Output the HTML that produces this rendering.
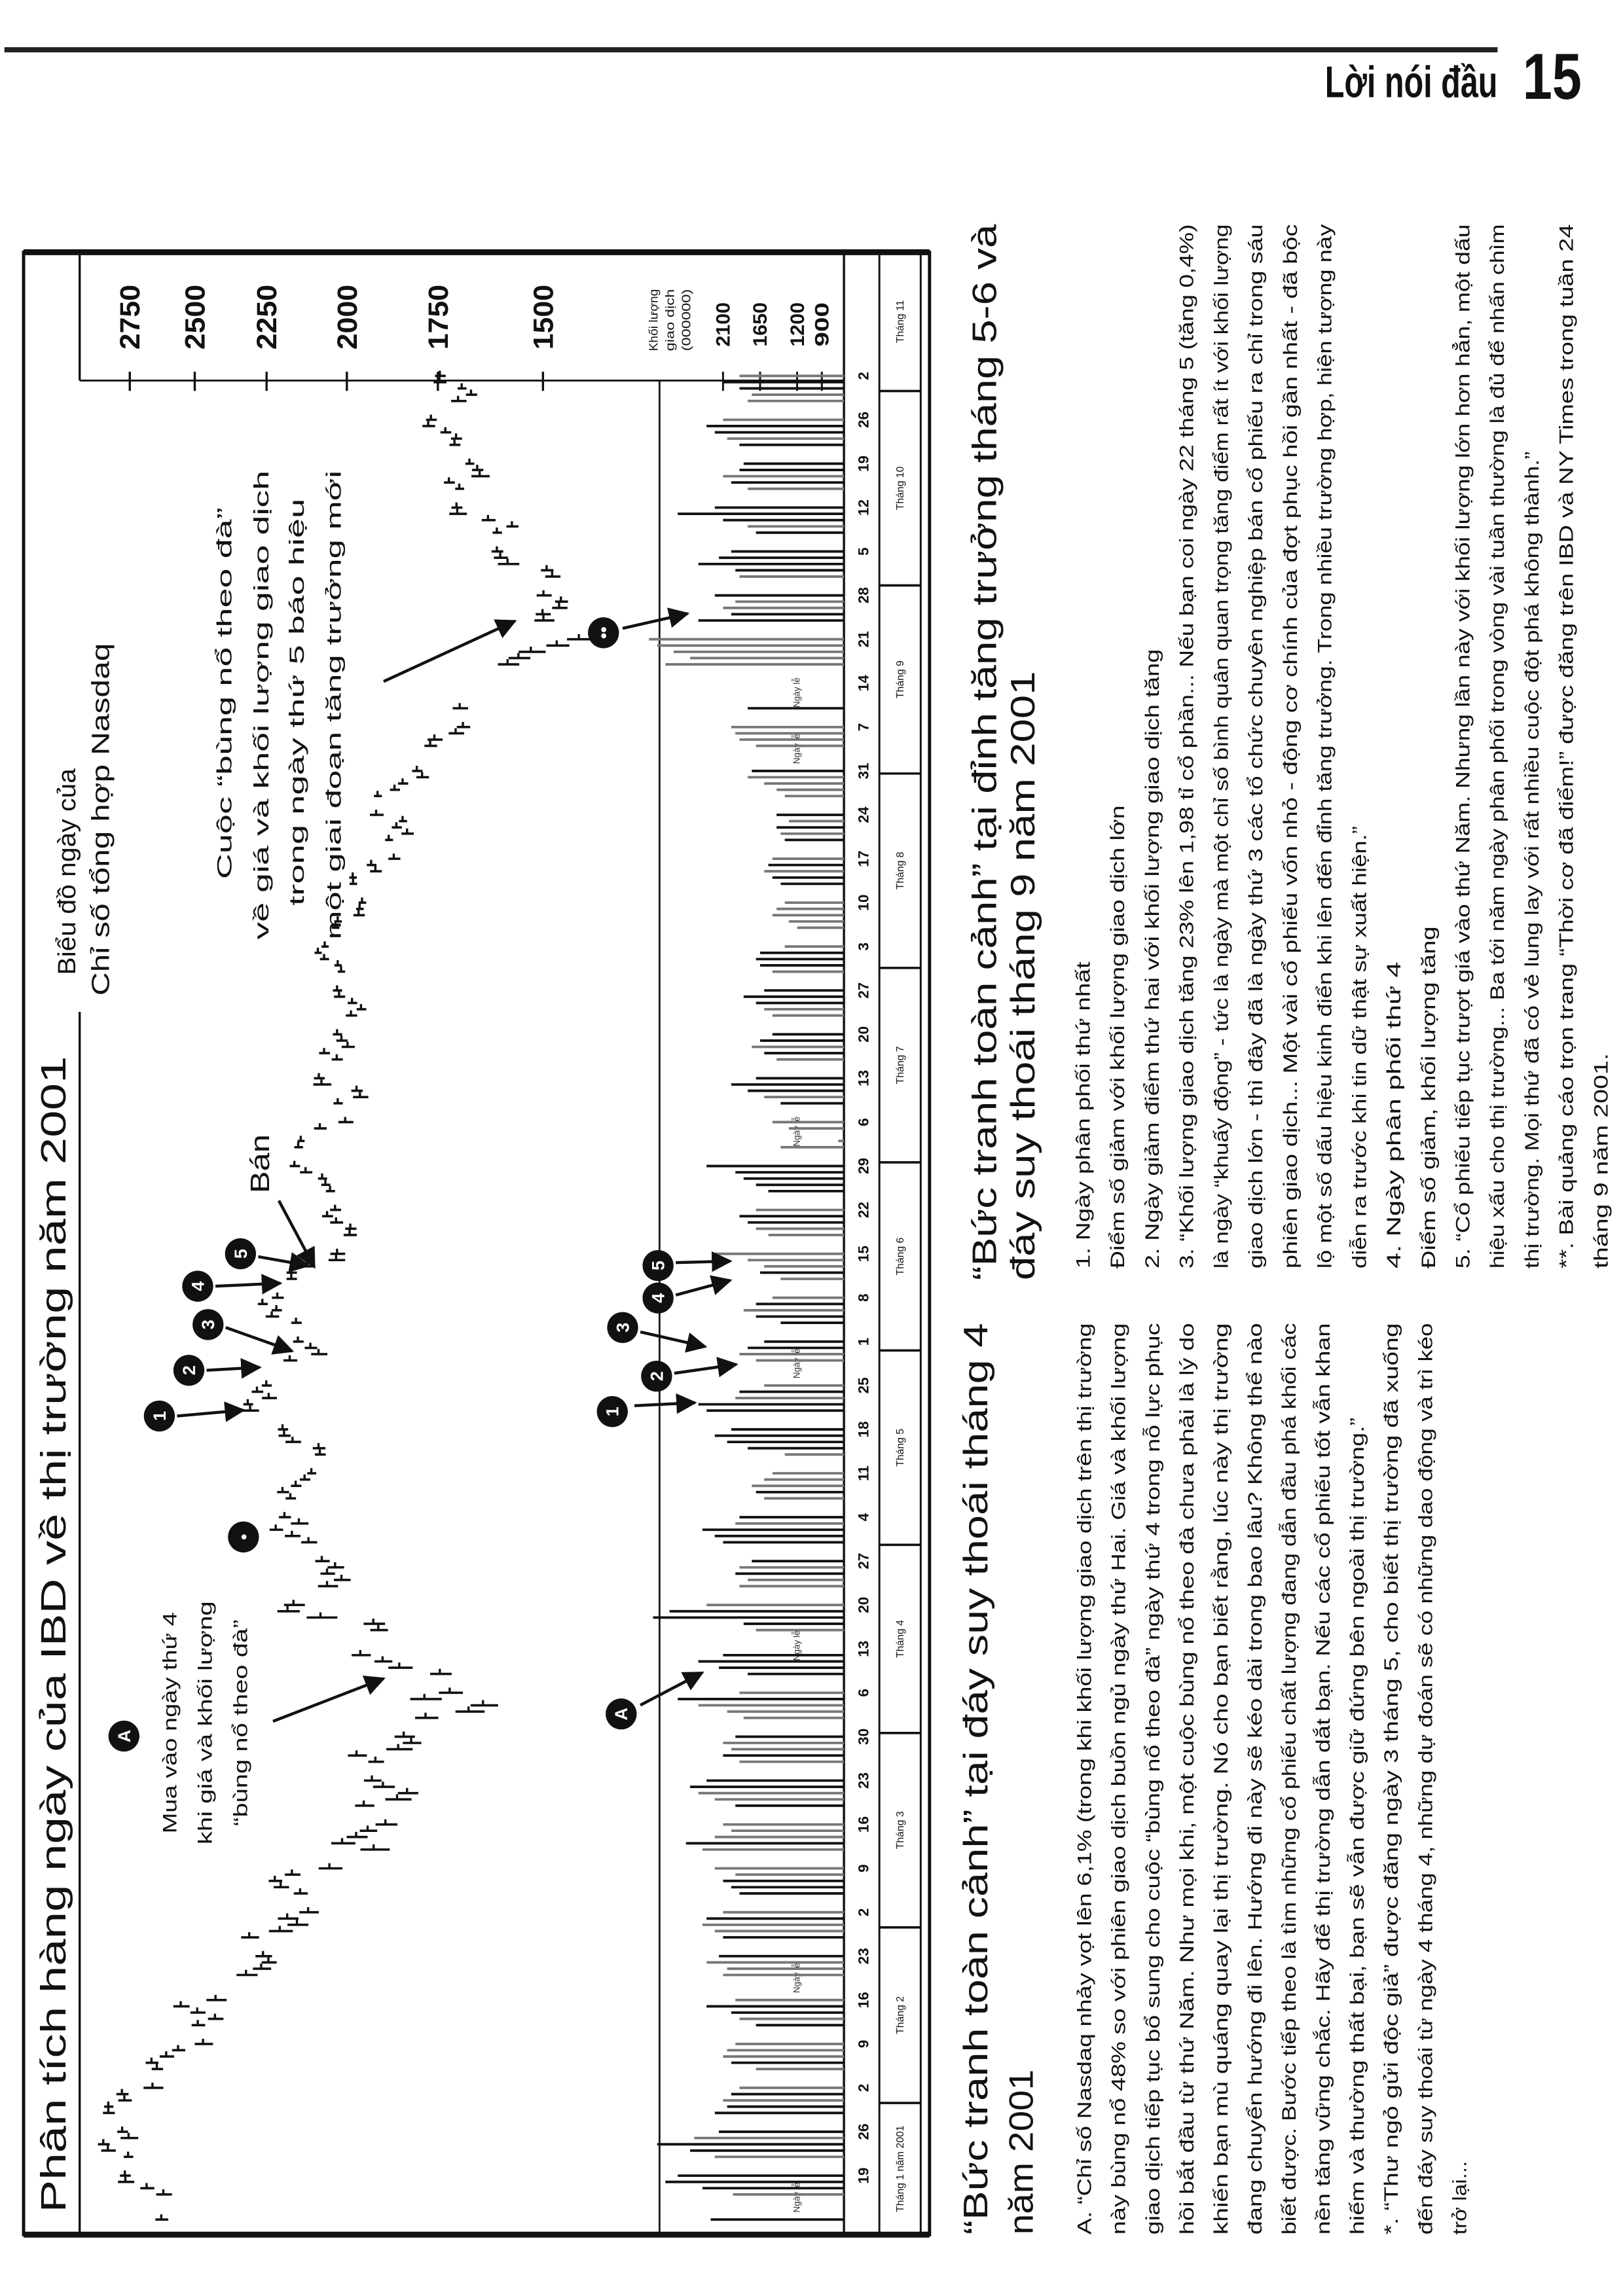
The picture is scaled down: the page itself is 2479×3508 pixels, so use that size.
<!DOCTYPE html>
<html><head><meta charset="utf-8"><title>Lời nói đầu 15</title>
<style>
html,body{margin:0;padding:0;background:#fff;}
svg{display:block;}
text{font-family:"Liberation Sans","DejaVu Sans",sans-serif;fill:#111;}
</style></head>
<body>
<svg id="page" xmlns="http://www.w3.org/2000/svg" width="2479" height="3508" viewBox="0 0 1100 1556.6" preserveAspectRatio="none">
<defs>
<marker id="ah" viewBox="0 0 10 10" refX="9" refY="5" markerWidth="7" markerHeight="7" orient="auto"><path d="M0,0 L10,5 L0,10 z" fill="#111"/></marker>
</defs>
<rect x="3" y="32" width="1012" height="3.5" fill="#222"/>
<text x="898" y="66" font-size="30" font-weight="bold" textLength="117" lengthAdjust="spacingAndGlyphs">Lời nói đầu</text>
<text x="1032" y="67" font-size="44" font-weight="bold" textLength="40" lengthAdjust="spacingAndGlyphs">15</text>

<g fill="none" stroke="#111">
<rect x="16" y="171" width="614" height="1344" stroke-width="2.2"/>
<line x1="16" y1="171" x2="630" y2="171" stroke-width="4"/>
<line x1="16" y1="1515" x2="630" y2="1515" stroke-width="4"/>
<line x1="54" y1="686" x2="54" y2="1515" stroke-width="1.5"/>
<line x1="54" y1="171" x2="54" y2="258" stroke-width="1.5"/>
<line x1="572" y1="171" x2="572" y2="1515" stroke-width="1.5"/>
<line x1="596" y1="171" x2="596" y2="1515" stroke-width="1.3"/>
<line x1="624" y1="171" x2="624" y2="1515" stroke-width="1.3"/>
<line x1="447" y1="258" x2="447" y2="1515" stroke-width="1.2"/>
<line x1="54" y1="258" x2="572" y2="258" stroke-width="1.3"/>
</g>
<g id="chart"></g>
<g id="texts"></g>
</svg>
<script>
const NS='http://www.w3.org/2000/svg';
const tradeDays=[
[12,16,17,18,19,22,23,24,25,26,29,30,31],
[1,2,5,6,7,8,9,12,13,14,15,16,20,21,22,23,26,27,28],
[1,2,5,6,7,8,9,12,13,14,15,16,19,20,21,22,23,26,27,28,29,30],
[2,3,4,5,6,9,10,11,12,16,17,18,19,20,23,24,25,26,27,30],
[1,2,3,4,7,8,9,10,11,14,15,16,17,18,21,22,23,24,25,29,30,31],
[1,4,5,6,7,8,11,12,13,14,15,18,19,20,21,22,25,26,27,28,29],
[2,3,5,6,9,10,11,12,13,16,17,18,19,20,23,24,25,26,27,30,31],
[1,2,3,6,7,8,9,10,13,14,15,16,17,20,21,22,23,24,27,28,29,30,31],
[4,5,6,7,10,17,18,19,20,21,24,25,26,27,28],
[1,2,3,4,5,8,9,10,11,12,15,16,17,18,19,22,23,24,25,26,29,30,31],
[1,2]
];
const closes=[
2626,2618,2683,2768,2770,2757,2840,2859,2755,2781,2838,2838,2772,
2782,2660,2643,2664,2607,2562,2470,2489,2427,2491,2552,2425,2319,2268,2244,2262,2308,2207,2152,
2183,2117,2142,2204,2223,2168,2052,1923,2014,1973,1940,1890,1951,1858,1831,1897,1928,1918,1972,1855,1820,1840,
1782,1673,1638,1785,1720,1745,1852,1898,1961,1910,1924,2079,2182,2163,2059,2016,2059,2035,2075,2116,
2168,2220,2146,2192,2173,2198,2156,2128,2107,2081,2085,2166,2193,2198,2305,2313,2243,2282,2251,2175,2085,2110,
2149,2155,2233,2218,2264,2215,2170,2170,2121,2032,2029,1992,1990,2032,2059,2035,2050,2064,2074,2125,2160,
2148,2140,2081,2005,2027,1962,1972,2076,2084,2030,2068,1998,2016,2029,1988,1959,1985,2023,2029,2017,2027,
2068,2087,2066,2034,2027,1966,1963,1956,1982,1983,1918,1930,1867,1881,1831,1860,1843,1916,1912,1865,1843,1791,1805,
1770,1759,1705,1687,1695,1580,1555,1527,1470,1423,1499,1501,1465,1461,1499,
1480,1492,1580,1597,1605,1605,1570,1626,1701,1703,1696,1722,1646,1652,1671,1708,1704,1731,1775,1768,1699,1667,1690,
1746,1745
];
const ranges=[
90,110,100,120,80,70,110,90,130,80,90,70,100,
90,140,80,90,100,90,120,90,100,100,110,130,130,110,90,100,110,140,120,
120,110,80,90,80,90,130,150,130,110,90,110,100,130,100,110,90,80,100,130,90,100,
110,130,120,150,110,100,120,90,100,90,110,170,130,120,110,90,80,90,80,90,
90,80,100,70,60,70,60,60,50,60,70,90,70,60,100,60,90,70,60,80,90,70,
60,60,80,60,60,70,60,60,70,90,80,70,60,70,60,60,50,50,50,70,60,
50,40,70,80,50,80,60,100,60,60,60,70,60,50,60,50,50,60,50,40,40,
50,40,40,40,40,60,40,40,40,40,60,50,60,40,60,50,40,70,40,50,50,60,50,
60,70,70,60,70,90,90,110,90,100,80,60,60,50,60,
60,50,90,60,50,40,50,60,80,50,40,50,80,50,40,50,50,50,60,50,70,50,40,
60,50
];
const volumes=[
2250,1980,2350,2800,2650,2200,2500,2900,2450,2150,2200,2050,2100,
2000,1900,1700,2000,2100,2050,1950,1700,1900,2000,2300,1950,2100,2050,2300,2150,2100,2200,2350,
2300,2100,1900,2000,2100,1950,2200,2350,2550,2200,2000,2100,1950,2200,2400,2500,2300,1900,2100,2000,2100,1950,
1850,2050,2400,2650,1900,1800,2150,2400,2100,1700,1850,2950,2750,2300,1900,1800,1950,1900,1750,2100,
2200,2350,1950,1900,1600,1700,1750,1600,1500,1350,1800,2050,2200,2000,2300,2400,1950,1900,1600,1700,1900,1800,
1600,1400,1700,1850,1700,1500,1400,1650,1600,1800,2200,1550,1700,1800,1900,1700,1550,1700,1850,1950,2300,
1400,700,1300,1500,1400,1600,1800,2000,1700,1450,1600,1750,1650,1500,1500,1600,1700,1850,1600,1500,1650,
1700,1650,1350,1200,1300,1500,1450,1350,1400,1500,1600,1550,1500,1350,1400,1450,1300,1450,1350,1450,1600,1800,1750,
1700,1900,1950,2000,1800,2800,2500,2700,2900,3000,2400,2000,2100,1950,2200,
1900,1950,2400,2150,2000,1700,1800,2100,2650,2200,1800,2000,2100,1900,1850,1900,2050,2200,2300,2100,1800,1750,1900,
2100,1900
];
const tickDates=["1/19","1/26","2/2","2/9","2/16","2/23","3/2","3/9","3/16","3/23","3/30","4/6","4/13","4/20","4/27","5/4","5/11","5/18","5/25","6/1","6/8","6/15","6/22","6/29","7/6","7/13","7/20","7/27","8/3","8/10","8/17","8/24","8/31","9/7","9/14","9/21","9/28","10/5","10/12","10/19","10/26","11/2"];
const monthNames=["Tháng 1 năm 2001","Tháng 2","Tháng 3","Tháng 4","Tháng 5","Tháng 6","Tháng 7","Tháng 8","Tháng 9","Tháng 10","Tháng 11"];
const priceTicks=[2750,2500,2250,2000,1750,1500];
const volumeTicks=[2100,1650,1200,900];
const holidays=["1/15","2/19","4/13","5/28","7/4","9/3","9/12"];

const MONTH_START=[0,31,59,90,120,151,181,212,243,273,304,334];
function doy(s){const p=s.split('/').map(Number);return MONTH_START[p[0]-1]+p[1];}
function yDate(s){return 1475-(doy(s)-19)*29.76/7;}
function xP(p){return 368-462*Math.log(p/1500);}
function xV(v){return 557-(v-900)*0.0558;}

function mk(tag,attrs,parent){const e=document.createElementNS(NS,tag);for(const k in attrs)e.setAttribute(k,attrs[k]);parent.appendChild(e);return e;}
function rtext(parent,xc,y,str,size,opts){
  opts=opts||{};
  const t=mk('text',{transform:'translate('+(xc+size*0.35)+','+y+') rotate(-90)','font-size':size},parent);
  if(opts.anchor)t.setAttribute('text-anchor',opts.anchor);
  if(opts.weight)t.setAttribute('font-weight',opts.weight);
  if(opts.len){t.setAttribute('textLength',opts.len);t.setAttribute('lengthAdjust','spacingAndGlyphs');}
  if(opts.fill)t.style.fill=opts.fill;
  t.textContent=str;return t;
}
const chart=document.getElementById('chart');
const dates=[];
tradeDays.forEach((days,mi)=>days.forEach(d=>dates.push((mi+1)+'/'+d)));

priceTicks.forEach(p=>{
  const x=xP(p);
  const tk=mk('line',{x1:x,y1:252,x2:x,y2:265,stroke:'#111','stroke-width':1.5},chart);
  
  
  const lb=rtext(chart,x,215,String(p),19,{anchor:'middle',weight:'bold',len:44});
  
  
});
volumeTicks.forEach(v=>{
  const x=xV(v);
  const tk=mk('line',{x1:x,y1:252,x2:x,y2:265,stroke:'#111','stroke-width':1.3},chart);
  
  
  const lb=rtext(chart,x,220,String(v),13,{anchor:'middle',weight:'bold',len:30});
  
  
});
['Khối lượng','giao dịch','(000000)'].forEach((s,i)=>{
  const t=rtext(chart,443+i*11,238,s,8,{len:42});
  
  
});

tickDates.forEach(s=>{
  const y=yDate(s);
  const t=rtext(chart,585,y,s.split('/')[1],10,{anchor:'middle',weight:'bold'});
  
  
});
const sepY=[];
for(let m=1;m<=10;m++){sepY.push(yDate((m+1)+'/1')+6);}
sepY.forEach(y=>{
  const l=mk('line',{x1:596,y1:y,x2:624,y2:y,stroke:'#111','stroke-width':1.6},chart);
  
  
});
monthNames.forEach((n,i)=>{
  const yb=i===0?1515:sepY[i-1];
  const yt=i<sepY.length?sepY[i]:171;
  const t=rtext(chart,610,(yb+yt)/2,n,7,{anchor:'middle'});
  
  
});
holidays.forEach(s=>{
  const t=rtext(chart,540,yDate(s)+8,'Ngày lễ',6,{fill:'#333'});
  
  
});

dates.forEach((s,i)=>{
  const y=yDate(s);
  const up=i===0||closes[i]>=closes[i-1];
  const vb=mk('line',{x1:572,y1:y,x2:xV(volumes[i]),y2:y,stroke:up?'#111':'#777','stroke-width':1.7},chart);
  
  
  const hi=closes[i]+ranges[i]*0.25, lo=closes[i]-ranges[i]*0.3;
  const pb=mk('line',{x1:xP(hi),y1:y,x2:xP(lo),y2:y,stroke:'#111','stroke-width':1.6},chart);
  
  
  const cx=xP(closes[i]);
  const ct=mk('line',{x1:cx,y1:y,x2:cx,y2:y-3.5,stroke:'#111','stroke-width':1.5},chart);
  
  
});

const T=document.getElementById('texts');
function circ(cx,cy,label,name){
  const c=mk('circle',{cx:cx,cy:cy,r:10.5,fill:'#111'},T);
  
  
  const t=rtext(T,cx,cy,label,12,{anchor:'middle',weight:'bold',fill:'#fff'});
  
  
}
function arrow(x1,y1,x2,y2,name){
  const a=mk('line',{x1:x1,y1:y1,x2:x2,y2:y2,stroke:'#111','stroke-width':2,'marker-end':'url(#ah)'},T);
  
  
}
circ(84,1177,'A','marker-a-price');
circ(165,1042,'•','marker-dot-price');
circ(421,1162,'A','marker-a-volume');
circ(108,960,'1','marker-1-price');
circ(128,929,'2','marker-2-price');
circ(141,898,'3','marker-3-price');
circ(134,872,'4','marker-4-price');
circ(163,850,'5','marker-5-price');
circ(415,957,'1','marker-1-volume');
circ(445,933,'2','marker-2-volume');
circ(422,900,'3','marker-3-volume');
circ(446,880,'4','marker-4-volume');
circ(446,858,'5','marker-5-volume');
circ(409,429,'••','marker-ftd-volume');
arrow(185,1167,260,1138,'arrow-a-price');
arrow(434,1156,476,1134,'arrow-a-volume');
arrow(120,960,165,956,'arrow-1-price');
arrow(140,929,176,927,'arrow-2-price');
arrow(153,900,198,916,'arrow-3-price');
arrow(146,872,190,870,'arrow-4-price');
arrow(175,852,209,858,'arrow-5-price');
arrow(189,814,213,859,'arrow-sell');
arrow(430,953,471,951,'arrow-1-volume');
arrow(457,931,499,925,'arrow-2-volume');
arrow(434,903,478,913,'arrow-3-volume');
arrow(458,878,495,868,'arrow-4-volume');
arrow(458,856,495,855,'arrow-5-volume');
arrow(260,462,349,421,'arrow-ftd-price');
arrow(422,426,466,416,'arrow-ftd-volume');

function lines(arr,name){arr.forEach(a=>{const t=rtext(T,a[0],a[1],a[2],a[3],a[4]);});}
lines([[36,1500,'Phân tích hàng ngày của IBD về thị trường năm 2001',24,{len:784}]],'chart-title');
lines([[45,661,'Biểu đồ ngày của',17,{len:140}],[68,675,'Chỉ số tổng hợp Nasdaq',17,{len:239}]],'chart-subtitle');
lines([[115,1168,'Mua vào ngày thứ 4',13,{anchor:'middle',len:150}],[139,1168,'khi giá và khối lượng',13,{anchor:'middle',len:165}],[163,1168,'“bùng nổ theo đà”',13,{anchor:'middle',len:140}]],'annotation-buy');
lines([[152,470,'Cuộc “bùng nổ theo đà”',14,{anchor:'middle',len:252}],[177,478,'về giá và khối lượng giao dịch',14,{anchor:'middle',len:318}],[201,476,'trong ngày thứ 5 báo hiệu',14,{anchor:'middle',len:276}],[226,478,'một giai đoạn tăng trưởng mới',14,{anchor:'middle',len:318}]],'annotation-follow-through');
lines([[176,789,'Bán',18,{anchor:'middle',len:40}]],'annotation-sell');

lines([[661,1515,'“Bức tranh toàn cảnh” tại đáy suy thoái tháng 4',23,{len:618}],[692,1515,'năm 2001',23,{len:112}]],'caption-april-bottom');
lines([[667,868,'“Bức tranh toàn cảnh” tại đỉnh tăng trưởng tháng 5-6 và',23,{len:716}],[693,868,'đáy suy thoái tháng 9 năm 2001',23,{len:413}]],'caption-may-top');

const bodyA=[
['A. “Chỉ số Nasdaq nhảy vọt lên 6,1% (trong khi khối lượng giao dịch trên thị trường',618],
['này bùng nổ 48% so với phiên giao dịch buồn ngủ ngày thứ Hai. Giá và khối lượng',618],
['giao dịch tiếp tục bổ sung cho cuộc “bùng nổ theo đà” ngày thứ 4 trong nỗ lực phục',618],
['hồi bắt đầu từ thứ Năm. Như mọi khi, một cuộc bùng nổ theo đà chưa phải là lý do',618],
['khiến bạn mù quáng quay lại thị trường. Nó cho bạn biết rằng, lúc này thị trường',618],
['đang chuyển hướng đi lên. Hướng đi này sẽ kéo dài trong bao lâu? Không thể nào',618],
['biết được. Bước tiếp theo là tìm những cổ phiếu chất lượng đang dẫn đầu phá khối các',618],
['nền tăng vững chắc. Hãy để thị trường dẫn dắt bạn. Nếu các cổ phiếu tốt vẫn khan',618],
['hiếm và thường thất bại, bạn sẽ vẫn được giữ đứng bên ngoài thị trường.”',554],
['*. “Thư ngỏ gửi độc giả” được đăng ngày 3 tháng 5, cho biết thị trường đã xuống',618],
['đến đáy suy thoái từ ngày 4 tháng 4, những dự đoán sẽ có những dao động và trì kéo',618],
['trở lại...',50]
];
bodyA.forEach((l,i)=>{const t=rtext(T,735+i*23.1,1515,l[0],13,{len:l[1]});

});

const bodyB=[
['1. Ngày phân phối thứ nhất',208],
['Điểm số giảm với khối lượng giao dịch lớn',314],
['2. Ngày giảm điểm thứ hai với khối lượng giao dịch tăng',420],
['3. “Khối lượng giao dịch tăng 23% lên 1,98 tỉ cổ phần... Nếu bạn coi ngày 22 tháng 5 (tăng 0,4%)',708],
['là ngày “khuấy động” - tức là ngày mà một chỉ số bình quân quan trọng tăng điểm rất ít với khối lượng',708],
['giao dịch lớn - thì đây đã là ngày thứ 3 các tổ chức chuyên nghiệp bán cổ phiếu ra chỉ trong sáu',708],
['phiên giao dịch... Một vài cổ phiếu vốn nhỏ - động cơ chính của đợt phục hồi gần nhất - đã bộc',708],
['lộ một số dấu hiệu kinh điển khi lên đến đỉnh tăng trưởng. Trong nhiều trường hợp, hiện tượng này',708],
['diễn ra trước khi tin dữ thật sự xuất hiện.”',300],
['4. Ngày phân phối thứ 4',208],
['Điểm số giảm, khối lượng tăng',232],
['5. “Cổ phiếu tiếp tục trượt giá vào thứ Năm. Nhưng lần này với khối lượng lớn hơn hẳn, một dấu',708],
['hiệu xấu cho thị trường... Ba tới năm ngày phân phối trong vòng vài tuần thường là đủ để nhấn chìm',708],
['thị trường. Mọi thứ đã có vẻ lung lay với rất nhiều cuộc đột phá không thành.”',554],
['**. Bài quảng cáo trọn trang “Thời cơ đã điểm!” được đăng trên IBD và NY Times trong tuần 24',708],
['tháng 9 năm 2001.',146]
];
bodyB.forEach((l,i)=>{const t=rtext(T,734+i*23.4,860,l[0],13,{len:l[1]});

});
</script>
</body></html>
